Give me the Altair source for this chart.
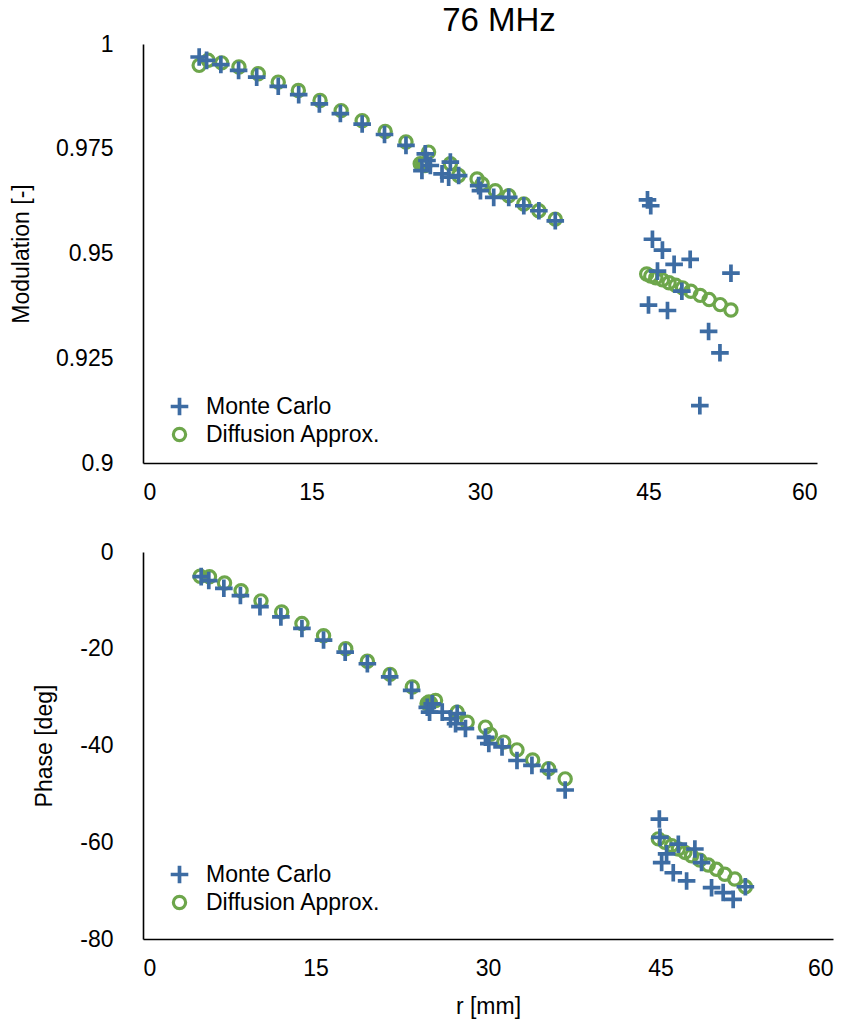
import altair as alt
import pandas as pd

# ---- Modulation panel (top) ----
mod_mc_r = [5.0, 5.66, 6.93, 8.51, 10.12, 12.04, 13.86, 15.7, 17.57, 19.51, 21.5, 23.41,
            24.83, 25.13, 25.28, 25.58, 26.62, 27.21, 27.36, 28.1, 29.88, 30.04, 31.22, 32.56,
            33.9, 35.24, 36.7,
            44.91, 45.2, 45.35, 46.24, 47.28, 48.71, 45.8, 47.97, 52.34, 45.0, 46.69, 50.35,
            51.36, 49.57]
mod_mc_val = [0.9969, 0.9961, 0.9951, 0.9937, 0.9921, 0.9899, 0.9879, 0.9857, 0.9834, 0.9809,
              0.9784, 0.9758,
              0.9698, 0.9738, 0.9722, 0.9710, 0.9690, 0.9682, 0.9718, 0.9686, 0.9662, 0.9650,
              0.9634, 0.9634, 0.9614, 0.9602, 0.9578,
              0.9628, 0.9614, 0.9534, 0.9508, 0.9474, 0.9486, 0.9458, 0.9410, 0.9453, 0.9377,
              0.9364, 0.9314, 0.9263, 0.9137]
mod_da_r = [5.0, 5.8, 7.0, 8.54, 10.26, 12.04, 13.83, 15.76, 17.64, 19.51, 21.56, 23.41,
            24.68, 24.9, 25.1, 25.42, 27.36, 28.1, 29.74, 30.19, 31.36, 32.56, 33.9, 35.24, 36.7,
            44.84, 45.2, 45.65, 46.24, 46.83, 47.43, 48.03, 48.77, 49.6, 50.4, 51.38, 52.34]
mod_da_val = [0.9949, 0.9961, 0.9955, 0.9945, 0.9929, 0.9909, 0.9889, 0.9865, 0.9841, 0.9817,
              0.9791, 0.9766,
              0.9714, 0.9712, 0.9710, 0.9742, 0.9714, 0.9686, 0.9678, 0.9666, 0.9650, 0.9638,
              0.9618, 0.9602, 0.9582,
              0.9451, 0.9446, 0.9442, 0.9437, 0.9430, 0.9424, 0.9418, 0.9410, 0.9400, 0.9390,
              0.9378, 0.9365]

# ---- Phase panel (bottom) ----
ph_mc_r = [5.06, 5.72, 7.03, 8.47, 10.17, 11.99, 13.82, 15.7, 17.58, 19.51, 21.45, 23.36,
           24.72, 25.15, 24.92, 26.02, 26.74, 27.32, 27.18, 28.04, 29.78, 30.07, 31.22, 32.52,
           33.82, 35.27, 36.71,
           44.9, 44.95, 46.55, 47.99, 45.53, 45.1, 48.57, 46.11, 47.27, 49.44, 50.45, 51.32, 52.38]
ph_mc_val = [-5.1, -5.9, -7.5, -9.0, -11.3, -13.4, -15.8, -18.2, -20.7, -23.1, -25.8, -28.6,
             -32.1, -31.4, -33.1, -33.1, -34.5, -33.4, -35.5, -36.5, -38.3, -39.6, -40.3, -43.1,
             -44.1, -45.2, -49.2,
             -55.2, -59.0, -60.4, -61.4, -62.4, -64.2, -64.2, -66.3, -68.0, -69.4, -70.4, -71.8,
             -69.2]
ph_da_r = [4.97, 5.78, 7.09, 8.53, 10.26, 12.06, 13.82, 15.7, 17.63, 19.51, 21.48, 23.42,
           24.7, 24.86, 25.0, 25.44, 27.32, 28.19, 29.78, 30.21, 31.37, 32.52, 33.88, 35.27, 36.71,
           44.81, 45.39, 45.97, 46.55, 47.12, 47.7, 48.42, 49.15, 49.87, 50.59, 51.46, 52.38]
ph_da_val = [-5.0, -5.1, -6.4, -8.0, -10.1, -12.4, -14.8, -17.3, -20.0, -22.6, -25.3, -27.9,
             -31.3, -31.0, -31.2, -30.7, -33.1, -35.2, -36.2, -37.7, -39.3, -40.9, -43.0, -44.8,
             -46.9,
             -59.3, -60.0, -60.7, -61.4, -62.1, -62.8, -63.7, -64.7, -65.6, -66.6, -67.6, -69.2]

series_names = ["Monte Carlo", "Diffusion Approx."]
x_ticks = [0, 15, 30, 45, 60]
mod_ticks = [0.9, 0.925, 0.95, 0.975, 1.0]
ph_ticks = [-80, -60, -40, -20, 0]

BLUE = "#3d6ca3"
GREEN = "#6da64b"
PLUS = "M-1,0L1,0M0,-1L0,1"
FONT = "Liberation Sans"
FS = 23


def make_df(mc_r, mc_v, da_r, da_v):
    da = pd.DataFrame({"r": da_r, "v": da_v, "series": "Diffusion Approx.", "o": 0})
    mc = pd.DataFrame({"r": mc_r, "v": mc_v, "series": "Monte Carlo", "o": 1})
    return pd.concat([da, mc], ignore_index=True)


def panel(df, ytitle, ydomain, yticks, lexpr, w, h, lx, ly, show_xtitle, ttl_pad):
    leg = alt.Legend(title=None, orient="none", legendX=lx, legendY=ly,
                     labelFontSize=FS, labelFont=FONT, labelColor="black", labelLimit=400,
                     symbolSize=230, symbolStrokeWidth=3.4, labelOffset=15,
                     rowPadding=-5, padding=0)
    enc_color = alt.Color("series:N", scale=alt.Scale(domain=series_names, range=[BLUE, GREEN]),
                          legend=leg)
    enc_shape = alt.Shape("series:N", scale=alt.Scale(domain=series_names, range=[PLUS, "circle"]),
                          legend=leg)
    xaxis = alt.Axis(values=x_ticks, title="r [mm]" if show_xtitle else None,
                     labelPadding=18, titlePadding=15)
    ch = alt.Chart(df).mark_point(filled=False, opacity=1).encode(
        x=alt.X("r:Q", scale=alt.Scale(domain=[0, 60], nice=False), axis=xaxis),
        y=alt.Y("v:Q", scale=alt.Scale(domain=ydomain, nice=False, zero=False),
                axis=alt.Axis(values=yticks, labelExpr=lexpr, title=ytitle, labelPadding=30,
                              titlePadding=ttl_pad)),
        color=enc_color,
        shape=enc_shape,
        size=alt.Size("series:N", scale=alt.Scale(domain=series_names, range=[310, 150]),
                      legend=None),
        strokeWidth=alt.StrokeWidth("series:N",
                                    scale=alt.Scale(domain=series_names, range=[3.7, 3.2]),
                                    legend=None),
        order=alt.Order("o:Q"),
    ).properties(width=w, height=h)
    return ch


top = panel(make_df(mod_mc_r, mod_mc_val, mod_da_r, mod_da_val), "Modulation [-]",
            [0.9, 1.0], mod_ticks, "format(datum.value, '.3~g')", 674, 419, 25, 351, False, 22
            ).properties(
    title=alt.TitleParams("76 MHz", fontSize=33, font=FONT, fontWeight="normal",
                          color="black", dx=19, offset=-5))
bottom = panel(make_df(ph_mc_r, ph_mc_val, ph_da_r, ph_da_val), "Phase [deg]",
               [-80, 0], ph_ticks, "'' + datum.value", 690, 387, 25, 311, True, 23)

chart = alt.vconcat(top, bottom, spacing=37).resolve_legend(
    color="independent", shape="independent"
).resolve_scale(color="independent", shape="independent", size="independent",
                strokeWidth="independent").properties(
    background="white", padding={"left": 10, "top": 5, "right": 5, "bottom": 5}
).configure_view(
    stroke=None
).configure_axis(
    grid=False, ticks=False, domainColor="black", domainWidth=1.6,
    labelFontSize=FS, labelFont=FONT, labelColor="black",
    titleFontSize=FS, titleFont=FONT, titleColor="black", titleFontWeight="normal"
)

chart.save("out.html", embed_options={"renderer": "svg", "actions": False})
